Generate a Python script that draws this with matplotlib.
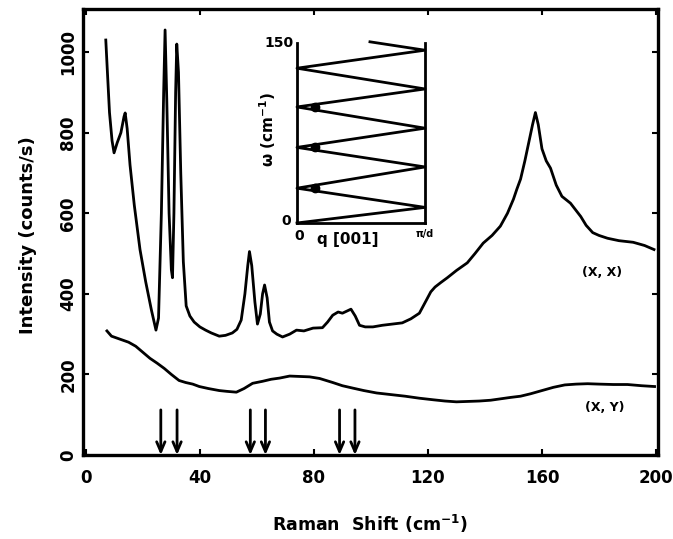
import matplotlib
matplotlib.use('Agg')
import matplotlib.pyplot as plt

# espectro polarizado (X, X)
xx_shift = [7.0, 7.5, 8.3, 9.2, 9.9, 11.0, 12.3, 13.4, 13.8, 14.5, 15.5, 17, 19, 21, 23, 24.6,
            25.5, 26.5, 27.3, 27.8, 28.4, 29.2, 30.0, 30.4, 30.9, 31.5, 31.9, 32.5, 33.3, 34.2,
            35.2, 36.5, 38, 40, 42, 44, 46.8, 49, 51.4, 53, 54.5, 55.8, 56.8, 57.4, 58.2, 59.3,
            60.2, 61.2, 62.0, 62.7, 63.6, 64.4, 65.5, 67, 69, 71.5, 73.9, 76.5, 79.7, 83, 84.8,
            86.6, 88.5, 90, 91.5, 93, 94.5, 96, 98, 100.7, 104, 107.5, 111, 114, 117, 119.5, 121,
            122.5, 124.5, 126.8, 130, 133.8, 136.5, 139.4, 142.5, 145.4, 147.9, 150, 151.2, 152.5,
            154, 155.5, 156.7, 157.7, 158.7, 160, 161.5, 163, 165, 167, 170, 173.6, 175.5, 177.8,
            180, 183, 187, 192, 196, 199.3]
xx_int = [1030, 960, 850, 780, 750, 775, 800, 840, 849, 810, 720, 620, 510, 430, 360, 310,
          340, 600, 900, 1055, 880, 600, 460, 440, 600, 900, 1020, 950, 700, 480,
          370, 345, 330, 318, 310, 303, 295, 297, 303, 312, 335, 400, 470, 505, 470, 380,
          325, 350, 400, 422, 390, 330, 308, 300, 293, 300, 310, 308, 315, 316, 330,
          347, 355, 352, 357, 362, 345, 322, 318, 318, 322, 325, 328, 338, 352, 385, 405,
          417, 428, 440, 458, 477, 500, 526, 545, 568, 600, 635, 660, 685,
          730, 780, 820, 850, 820, 760, 730, 712, 670, 642, 625, 592, 570, 552,
          545, 538, 532, 528, 520, 510]

# espectro despolarizado (X, Y)
xy_shift = [7.4, 9, 11, 13, 15, 17.5, 20, 22.5, 25, 27.5, 30, 32.7, 35, 37.5, 39.8, 43, 46.8,
            49.5, 52.8, 55.5, 58.5, 62, 65, 68, 71.5, 75, 78.5, 82, 86.6, 90, 93.7, 97.5, 102,
            107, 112, 117, 122, 126, 130, 134, 138, 142, 146, 149, 152.5, 156, 160, 164, 168,
            172, 176, 180, 185, 190, 195, 199.5]
xy_int = [308, 295, 290, 285, 280, 270, 255, 240, 228, 215, 200, 185, 180, 176, 170, 165, 160,
          158, 156, 165, 178, 183, 188, 191, 196, 195, 194, 190, 180, 172, 166, 160, 154,
          150, 146, 141, 137, 134, 132, 133, 134, 136, 140, 143, 146, 152, 160, 168, 174,
          176, 177, 176, 175, 175, 172, 170]

# modos plegados marcados con flechas
modos = [26.3, 32.0, 57.7, 63.0, 89.0, 94.4]

# relacion de dispersion plegada (inset)
zz_q = [0, 1, 0, 1, 0, 1, 0, 1, 0, 1, 0.57]
zz_w = [0, 13, 29, 46.7, 63, 79, 96.7, 111.7, 129, 144, 151]
puntos_w = [29, 63, 96.7]
puntos_q = [0.14, 0.14, 0.14]

fig = plt.figure(figsize=(6.73, 5.39), dpi=100)
ax = fig.add_axes([0.1233, 0.1558, 0.8544, 0.8275])

ax.plot(xx_shift, xx_int, color='black', lw=2.0)
ax.plot(xy_shift, xy_int, color='black', lw=2.0)

for m in modos:
    ax.annotate('', xy=(m, 0), xytext=(m, 112),
                arrowprops=dict(arrowstyle='->,head_length=0.7,head_width=0.3',
                                color='black', lw=2.0, shrinkA=0, shrinkB=0))

ax.text(181, 454, '(X, X)', fontsize=9, fontweight='bold', ha='center', va='center')
ax.text(182, 119, '(X, Y)', fontsize=9, fontweight='bold', ha='center', va='center')

ax.set_xlim(-1, 200.7)
ax.set_ylim(0, 1107)
ax.set_xticks([0, 40, 80, 120, 160, 200])
ax.set_yticks([0, 200, 400, 600, 800, 1000])
ax.tick_params(direction='in', length=4, width=1.5, top=True, right=True, labelsize=12)
ax.tick_params(axis='x', pad=10)
ax.tick_params(axis='y', pad=4)
for lab in ax.get_xticklabels():
    lab.set_fontweight('bold')
for lab in ax.get_yticklabels():
    lab.set_fontweight('bold')
    lab.set_rotation(90)
    lab.set_va('center')
for s in ax.spines.values():
    s.set_linewidth(2.4)

ax.set_xlabel('Raman  Shift (cm$^{\\mathbf{-1}}$)', fontsize=12.5, fontweight='bold')
ax.set_ylabel('Intensity (counts/s)', fontsize=13, fontweight='bold')
ax.xaxis.set_label_coords(0.499, -0.13)
ax.yaxis.set_label_coords(-0.08, 0.493)

# inset
ins = fig.add_axes([0.4413, 0.5863, 0.1902, 0.3339])
ins.plot(zz_q, zz_w, color='black', lw=2.0, clip_on=False)
ins.plot(puntos_q, puntos_w, 'o', color='black', ms=6, clip_on=False)
ins.set_xlim(0, 1)
ins.set_ylim(0, 150)
ins.set_xticks([])
ins.set_yticks([])
ins.spines['top'].set_visible(False)
for s in ['left', 'right', 'bottom']:
    ins.spines[s].set_linewidth(2.0)
ins.patch.set_alpha(0)

ins.text(-0.03, 1.0, '150', transform=ins.transAxes, fontsize=10, fontweight='bold',
         ha='right', va='center')
ins.text(-0.05, 0.01, '0', transform=ins.transAxes, fontsize=10, fontweight='bold',
         ha='right', va='center')
ins.text(0.02, -0.07, '0', transform=ins.transAxes, fontsize=10, fontweight='bold',
         ha='center', va='center')
ins.text(0.40, -0.09, 'q [001]', transform=ins.transAxes, fontsize=11, fontweight='bold',
         ha='center', va='center')
ins.text(1.0, -0.06, 'π/d', transform=ins.transAxes, fontsize=7, fontweight='bold',
         ha='center', va='center')
ins.text(-0.23, 0.52, 'ω (cm$^{\\mathbf{-1}}$)', transform=ins.transAxes, fontsize=11,
         fontweight='bold', ha='center', va='center', rotation=90)

fig.savefig('out.png', dpi=100)
